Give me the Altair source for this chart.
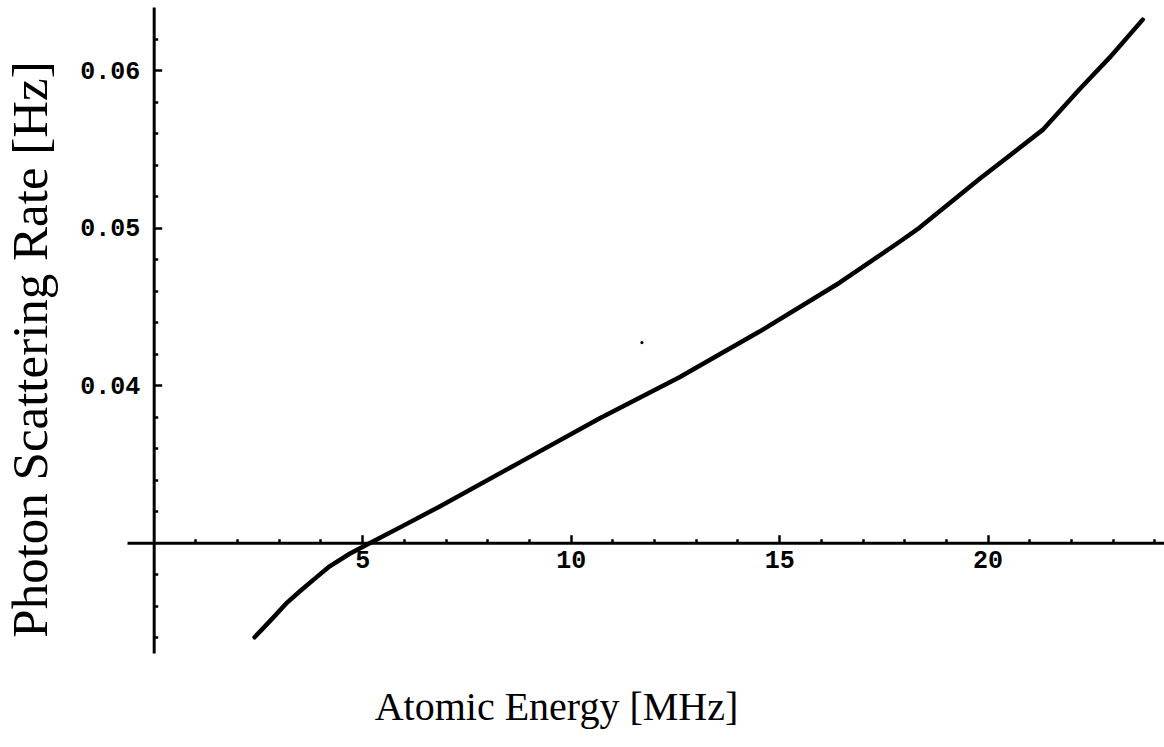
import altair as alt
import pandas as pd

# Curve
energy = [2.42, 2.85, 3.20, 3.50, 3.90, 4.22, 4.70, 5.20, 6.00, 6.86, 8.78, 10.70, 12.61,
          14.53, 16.45, 17.89, 18.37, 19.81, 21.32, 22.21, 22.93, 23.72]
rate = [0.0240, 0.0252, 0.0262, 0.0269, 0.0278, 0.0285, 0.0293, 0.0300, 0.0311, 0.0323,
        0.0351, 0.0379, 0.0405, 0.0434, 0.0465, 0.0491, 0.0500, 0.0531, 0.0562, 0.0588,
        0.0608, 0.0632]

# stray speck in the scan
speck_energy = [11.71]
speck_rate = [0.0427]

# axes / ticks
x_major = [5, 10, 15, 20]
x_minor = [1, 2, 3, 4, 6, 7, 8, 9, 11, 12, 13, 14, 16, 17, 18, 19, 21, 22, 23, 24]
y_major = [0.04, 0.05, 0.06]
y_minor = [0.024, 0.026, 0.028, 0.032, 0.034, 0.036, 0.038, 0.042, 0.044, 0.046,
           0.048, 0.052, 0.054, 0.056, 0.058, 0.062]
x_domain = [-0.64, 24.23]
y_domain = [0.023, 0.064]
x_cross = 0.0    # where the vertical axis sits
y_cross = 0.03   # where the horizontal axis sits

W, H = 1037, 646
PAD_L, PAD_T, PAD_R, PAD_B = 127, 7, 0, 94

df = pd.DataFrame({"energy": energy, "rate": rate})
speck = pd.DataFrame({"energy": speck_energy, "rate": speck_rate})

xs = alt.Scale(domain=x_domain, nice=False, zero=False)
ys = alt.Scale(domain=y_domain, nice=False, zero=False)

yaxis_px = (x_cross - x_domain[0]) / (x_domain[1] - x_domain[0]) * W
xaxis_px = (y_domain[1] - y_cross) / (y_domain[1] - y_domain[0]) * H  # from top

LABEL_FONT = "Liberation Mono"
TITLE_FONT = "Liberation Serif"

main = alt.Chart(df).mark_line(color="black", strokeWidth=4.5, strokeCap="round",
                               strokeJoin="round").encode(
    x=alt.X("energy:Q", scale=xs, axis=alt.Axis(
        orient="bottom", offset=-(H - xaxis_px), values=x_major, format="d",
        ticks=False, tickSize=0, grid=False,
        domain=True, domainColor="black", domainWidth=3,
        labelFont=LABEL_FONT, labelFontSize=25, labelFontWeight="bold",
        labelColor="black",
        labelPadding=5, labelFlush=False, labelBaseline="top",
        title="Atomic Energy [MHz]", titleFont=TITLE_FONT, titleFontSize=40,
        titleFontWeight="normal", titleColor="black",
        titleX=556 - PAD_L, titleY=719 - PAD_T - xaxis_px,
        titleAlign="center", titleBaseline="alphabetic")),
    y=alt.Y("rate:Q", scale=ys, axis=alt.Axis(
        orient="left", offset=-yaxis_px, values=y_major, format=".2f",
        ticks=False, tickSize=0, grid=False,
        domain=True, domainColor="black", domainWidth=3,
        labelFont=LABEL_FONT, labelFontSize=25, labelFontWeight="bold",
        labelColor="black",
        labelPadding=14, labelFlush=False,
        title="Photon Scattering Rate [Hz]", titleFont=TITLE_FONT, titleFontSize=51,
        titleFontWeight="normal", titleColor="black", titleAngle=270,
        titleX=31 - PAD_L - yaxis_px, titleY=349 - PAD_T,
        titleAlign="center", titleBaseline="middle")),
)

dot = alt.Chart(speck).mark_circle(color="black", size=10, opacity=1).encode(
    x=alt.X("energy:Q", scale=xs, axis=None),
    y=alt.Y("rate:Q", scale=ys, axis=None),
)


def tick_layer(xvals, yvals, size):
    return alt.Chart(df).mark_line(opacity=0).encode(
        x=alt.X("energy:Q", scale=xs, axis=alt.Axis(
            orient="top", offset=-xaxis_px, values=xvals, labels=False,
            domain=False, grid=False, ticks=True, tickSize=size, tickWidth=2.5,
            tickColor="black", title=None)),
        y=alt.Y("rate:Q", scale=ys, axis=alt.Axis(
            orient="right", offset=-(W - yaxis_px), values=yvals, labels=False,
            domain=False, grid=False, ticks=True, tickSize=size, tickWidth=2.5,
            tickColor="black", title=None)),
    )


minor = tick_layer(x_minor, y_minor, 4)
major = tick_layer(x_major, y_major, 8)

chart = alt.layer(main, minor, major, dot).resolve_axis(
    x="independent", y="independent"
).properties(
    width=W, height=H,
    autosize=alt.AutoSizeParams(type="none"),
    padding={"left": PAD_L, "top": PAD_T, "right": PAD_R, "bottom": PAD_B},
    background="white",
).configure_view(stroke=None)

chart.save("out.html", embed_options={"renderer": "svg", "actions": False})
